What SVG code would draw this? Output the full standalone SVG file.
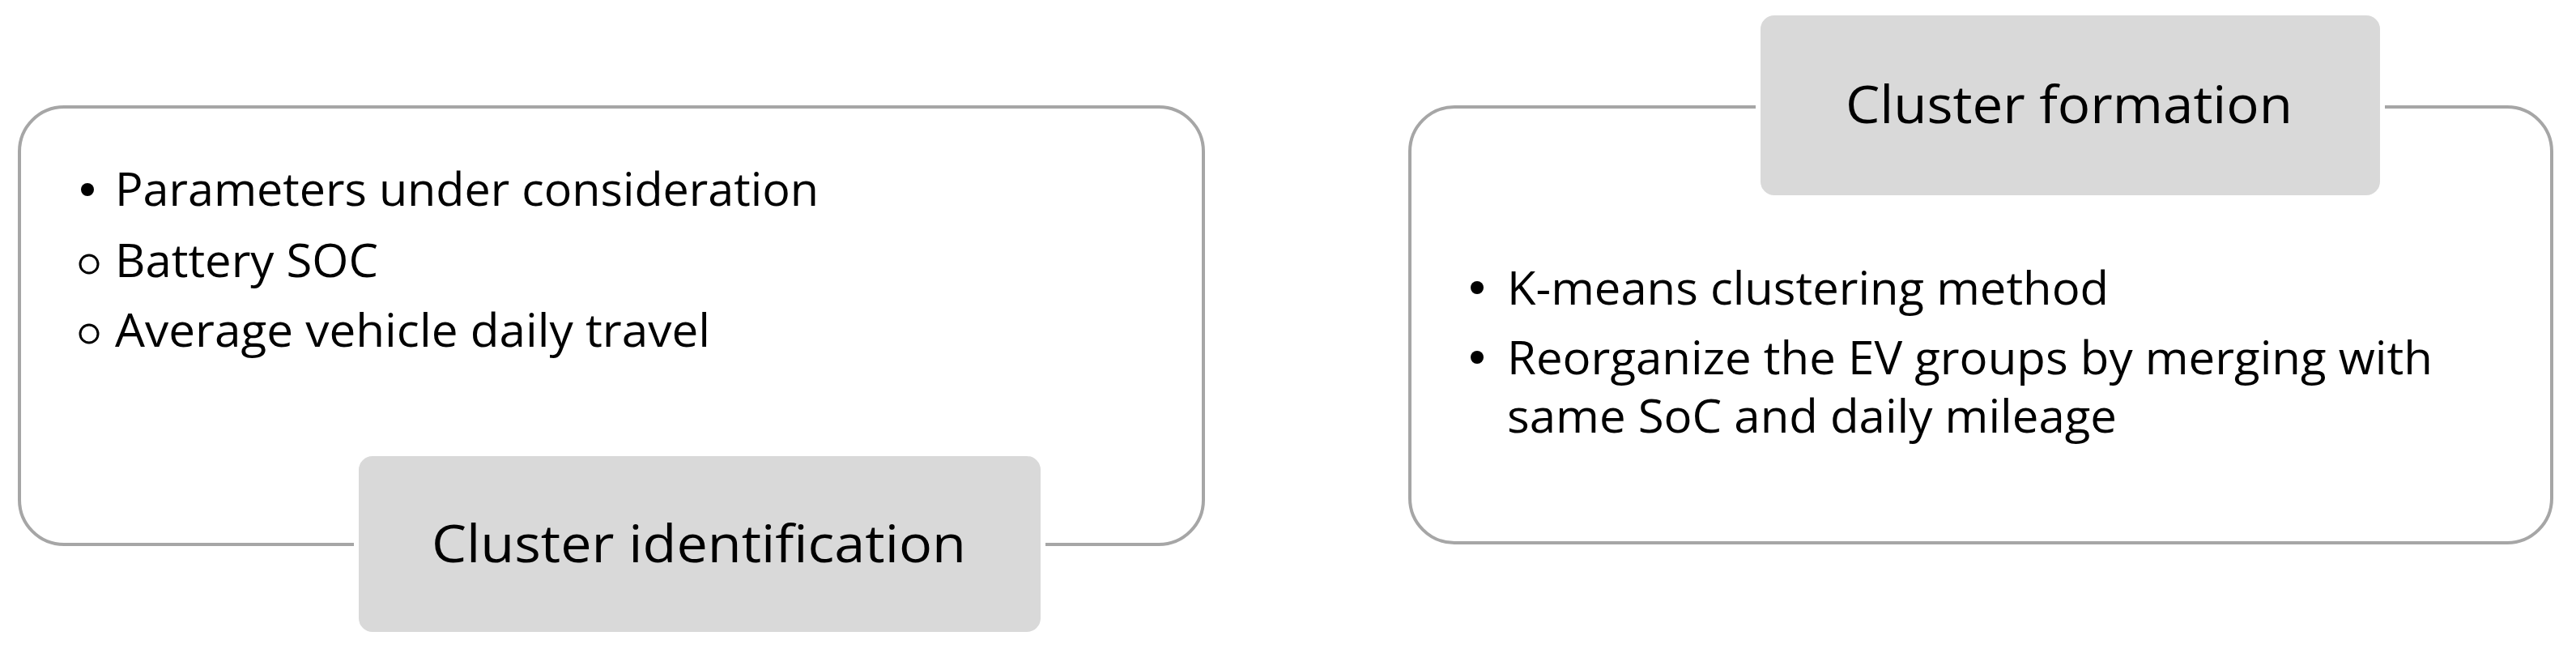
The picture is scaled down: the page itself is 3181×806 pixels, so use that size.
<svg xmlns="http://www.w3.org/2000/svg" width="3181" height="806" viewBox="0 0 3181 806">
<style>
.frame{fill:#fff;stroke:#a6a6a6;stroke-width:4}
.title{fill:#d9d9d9;stroke:#fff;stroke-width:6}
text{font-family:"Open Sans","Liberation Sans",sans-serif;fill:#000}
.b{font-size:56px}
.t{font-size:64px;text-anchor:middle}
</style>
<rect width="3181" height="806" fill="#fff"/>
<g id="cluster-identification">
<rect class="frame" x="24" y="132" width="1462" height="540" rx="55"/>
<text class="b" x="142" y="254" textLength="869" lengthAdjust="spacingAndGlyphs">Parameters under consideration</text>
<circle cx="108" cy="234" r="8" fill="#000"/>
<text class="b" x="142" y="342" textLength="325" lengthAdjust="spacingAndGlyphs">Battery SOC</text>
<circle cx="110" cy="326" r="11" fill="none" stroke="#000" stroke-width="3"/>
<text class="b" x="142" y="428" textLength="735" lengthAdjust="spacingAndGlyphs">Average vehicle daily travel</text>
<circle cx="110" cy="412" r="11" fill="none" stroke="#000" stroke-width="3"/>
<rect class="title" x="440" y="560" width="848" height="223" rx="20"/>
<text class="t" x="863" y="694" textLength="660" lengthAdjust="spacingAndGlyphs">Cluster identification</text>
</g>
<g id="cluster-formation">
<rect class="frame" x="1741" y="132" width="1410" height="538" rx="55"/>
<rect class="title" x="2171" y="16" width="771" height="228" rx="20"/>
<text class="t" x="2555" y="152" textLength="552" lengthAdjust="spacingAndGlyphs">Cluster formation</text>
<circle cx="1824" cy="355" r="8" fill="#000"/>
<text class="b" x="1861" y="376" textLength="743" lengthAdjust="spacingAndGlyphs">K-means clustering method</text>
<circle cx="1824" cy="441" r="8" fill="#000"/>
<text class="b" x="1861" y="462" textLength="1143" lengthAdjust="spacingAndGlyphs">Reorganize the EV groups by merging with</text>
<text class="b" x="1861" y="534" textLength="753" lengthAdjust="spacingAndGlyphs">same SoC and daily mileage</text>
</g>
<g id="connectors"></g>
</svg>
